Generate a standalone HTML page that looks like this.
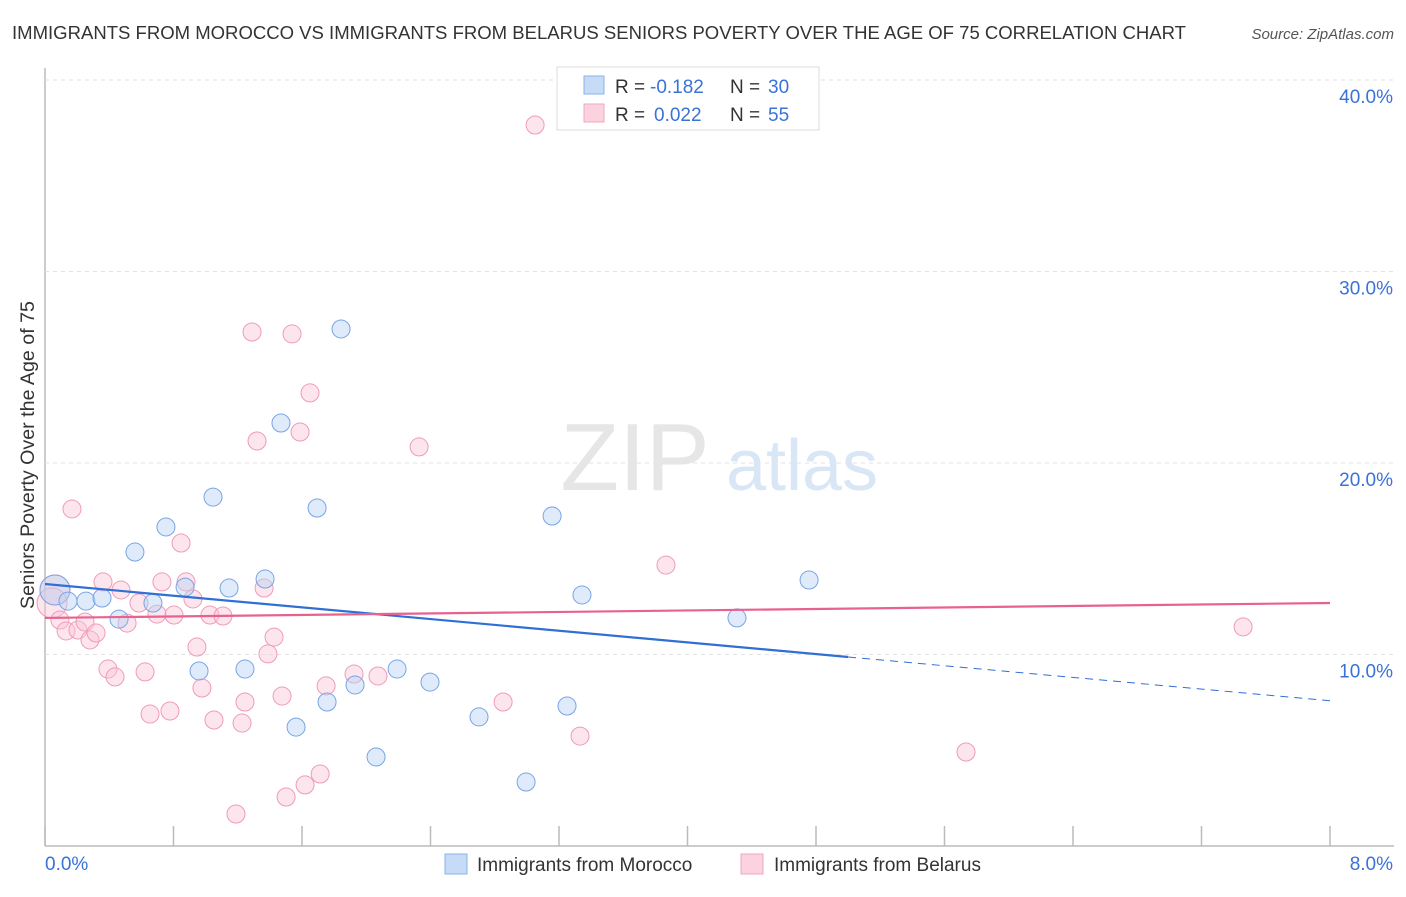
<!DOCTYPE html>
<html><head><meta charset="utf-8"><style>
body{margin:0;background:#fff;font-family:"Liberation Sans",sans-serif;}
svg text{font-family:"Liberation Sans",sans-serif;}
</style></head><body>
<svg id="chart" width="1406" height="892">
<text x="12" y="39" font-size="18" fill="#333" textLength="1174" lengthAdjust="spacingAndGlyphs">IMMIGRANTS FROM MOROCCO VS IMMIGRANTS FROM BELARUS SENIORS POVERTY OVER THE AGE OF 75 CORRELATION CHART</text>
<text x="1394" y="39" font-size="15" fill="#555" font-style="italic" text-anchor="end">Source: ZipAtlas.com</text>
<g id="grid"></g>
<text x="635" y="490" font-size="96" fill="#e6e6e6" font-family="Liberation Serif" text-anchor="middle">ZIP</text>
<text x="802" y="490" font-size="72" fill="#d8e6f6" text-anchor="middle">atlas</text>
<text transform="translate(34,455) rotate(-90)" font-size="19" fill="#333" text-anchor="middle" textLength="308" lengthAdjust="spacingAndGlyphs">Seniors Poverty Over the Age of 75</text>
<g id="marks"></g>
<g>
<rect x="557" y="67" width="262" height="63" fill="#fff" stroke="#ddd"/>
<rect x="584" y="76" width="20" height="18" fill="#c6dbf7" stroke="#8bb3e6"/>
<rect x="584" y="104" width="20" height="18" fill="#fbd3df" stroke="#efa7bf"/>
<text x="615" y="93" font-size="19" fill="#333">R =</text>
<text x="650" y="93" font-size="19" fill="#3a72d8">-0.182</text>
<text x="730" y="93" font-size="19" fill="#333">N =</text>
<text x="768" y="93" font-size="19" fill="#3a72d8">30</text>
<text x="615" y="121" font-size="19" fill="#333">R =</text>
<text x="654" y="121" font-size="19" fill="#3a72d8">0.022</text>
<text x="730" y="121" font-size="19" fill="#333">N =</text>
<text x="768" y="121" font-size="19" fill="#3a72d8">55</text>
</g>
<g>
<rect x="445" y="854" width="22" height="20" fill="#c6dbf7" stroke="#8bb3e6"/>
<text x="477" y="871" font-size="19" fill="#333">Immigrants from Morocco</text>
<rect x="741" y="854" width="22" height="20" fill="#fbd3df" stroke="#efa7bf"/>
<text x="774" y="871" font-size="19" fill="#333">Immigrants from Belarus</text>
</g>
</svg>
<script>
const moroccoX=[0.062,0.143,0.255,0.355,0.461,0.560,0.672,0.753,0.872,0.959,1.046,1.146,1.245,1.370,1.469,1.563,1.694,1.756,1.843,1.930,2.192,2.397,2.702,2.061,2.995,3.157,3.250,3.343,4.308,4.757];
const moroccoY=[13.37,12.79,12.79,12.95,11.85,15.35,12.69,16.66,13.52,9.14,18.22,13.47,9.24,13.94,22.09,6.21,17.65,7.52,27.00,8.41,9.24,8.56,6.74,4.65,3.34,17.23,7.31,13.11,11.91,13.89];
const belarusX=[0.062,0.044,0.168,0.093,0.131,0.205,0.249,0.280,0.318,0.361,0.392,0.436,0.473,0.511,0.585,0.623,0.654,0.697,0.728,0.778,0.803,0.847,0.878,0.921,0.946,0.977,1.027,1.052,1.108,1.189,1.227,1.245,1.289,1.320,1.364,1.388,1.426,1.476,1.501,1.538,1.588,1.619,1.650,1.713,1.750,1.924,2.073,2.329,2.852,3.051,3.331,3.866,5.734,7.459];
const belarusY=[13.37,12.69,17.60,11.80,11.23,11.28,11.70,10.76,11.12,13.79,9.24,8.83,13.37,11.64,12.69,9.09,6.89,12.11,13.79,7.05,12.06,15.82,13.79,12.90,10.39,8.25,12.06,6.58,12.01,1.67,6.42,7.52,26.84,21.15,13.47,10.03,10.91,7.83,2.56,26.74,21.62,3.19,23.66,3.76,8.36,8.98,8.88,20.84,7.52,37.65,5.74,14.67,4.91,11.44];
const moroccoTrend=[13.68,-0.762];
const belarusTrend=[11.91,0.0975];
const yTicks=[10,20,30,40];
const yTickLabels=["10.0%","20.0%","30.0%","40.0%"];
const xTicks=[0,0.8,1.6,2.4,3.2,4.0,4.8,5.6,6.4,7.2,8.0];

const NS="http://www.w3.org/2000/svg";
const X=v=>45+v/8*1285;
const Y=v=>846-v*19.15;
function mk(tag,attrs,parent){const e=document.createElementNS(NS,tag);for(const k in attrs)e.setAttribute(k,attrs[k]);parent.appendChild(e);return e;}
const grid=document.getElementById('grid'),marks=document.getElementById('marks');
let ax=mk('line',{x1:45,y1:68,x2:45,y2:846,stroke:'#bbb','stroke-width':1.5},grid);


let bx=mk('line',{x1:45,y1:846,x2:1394,y2:846,stroke:'#bbb','stroke-width':1.5},grid);


yTicks.forEach((t,i)=>{
 const g=mk('line',{x1:45,y1:Y(t),x2:1394,y2:Y(t),stroke:'#e2e2e2','stroke-dasharray':'4,4'},grid);
 
 
 const l=mk('text',{x:1393,y:Y(t)+23,'font-size':19,fill:'#3a72d8','text-anchor':'end'},grid);
 l.textContent=yTickLabels[i];
 
 
});
xTicks.forEach(t=>{
 const k=mk('line',{x1:X(t),y1:826,x2:X(t),y2:846,stroke:'#bbb','stroke-width':1.5},grid);
 
 
});
let x0=mk('text',{x:45,y:870,'font-size':19,fill:'#3a72d8'},grid);x0.textContent='0.0%';


let x8=mk('text',{x:1393,y:870,'font-size':19,fill:'#3a72d8','text-anchor':'end'},grid);x8.textContent='8.0%';



function pts(xs,ys,fill,stroke,name){
 xs.forEach((x,i)=>{
  const c=mk('circle',{cx:X(x),cy:Y(ys[i]),r:i<2&&x<0.1?15:9,fill:fill,'fill-opacity':0.45,stroke:stroke,'stroke-width':1},marks);
  
  
 });
}
pts(belarusX,belarusY,'#f9c6d6','#f09bb8','point-belarus');
pts(moroccoX,moroccoY,'#b8d3f5','#78a4e4','point-morocco');
const tb=v=>moroccoTrend[0]+moroccoTrend[1]*v, tp=v=>belarusTrend[0]+belarusTrend[1]*v;
let l1=mk('line',{x1:X(0),y1:Y(tb(0)),x2:X(5),y2:Y(tb(5)),stroke:'#2f6fd6','stroke-width':2.2},marks);


let l2=mk('line',{x1:X(5),y1:Y(tb(5)),x2:X(8),y2:Y(tb(8)),stroke:'#2f6fd6','stroke-width':1,'stroke-dasharray':'8,6'},marks);


let l3=mk('line',{x1:X(0),y1:Y(tp(0)),x2:X(8),y2:Y(tp(8)),stroke:'#e8628f','stroke-width':2.2},marks);


</script>
</body></html>
